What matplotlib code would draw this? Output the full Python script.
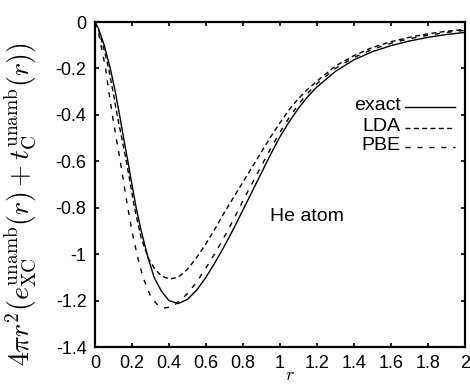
import numpy as np
import matplotlib
matplotlib.use('Agg')
import matplotlib.pyplot as plt

plt.rcParams['font.family'] = ['Liberation Sans', 'DejaVu Sans']
plt.rcParams['mathtext.fontset'] = 'cm'
plt.rcParams['axes.unicode_minus'] = False

# values
r_exact = [0, 0.02, 0.05, 0.083, 0.11, 0.133, 0.155, 0.178, 0.2, 0.223, 0.25, 0.288, 0.32, 0.36, 0.4,
           0.45, 0.5, 0.55, 0.6, 0.65, 0.7, 0.75, 0.8, 0.85, 0.9, 0.95, 1.0, 1.05, 1.1, 1.15, 1.2,
           1.3, 1.4, 1.5, 1.6, 1.7, 1.8, 1.9, 2.0]
exact = [0, -0.03, -0.10, -0.2, -0.30, -0.4, -0.5, -0.6, -0.70, -0.8, -0.90, -1.017, -1.10, -1.16, -1.20,
         -1.213, -1.195, -1.155, -1.10, -1.035, -0.965, -0.89, -0.81, -0.73, -0.65, -0.57, -0.495, -0.43, -0.372, -0.322, -0.28,
         -0.213, -0.163, -0.128, -0.102, -0.082, -0.066, -0.054, -0.045]

r_lda = [0, 0.02, 0.05, 0.074, 0.1, 0.12, 0.145, 0.17, 0.19, 0.214, 0.25, 0.288, 0.32, 0.36, 0.405,
         0.45, 0.5, 0.55, 0.6, 0.65, 0.7, 0.75, 0.8, 0.85, 0.9, 0.95, 1.0, 1.05, 1.1, 1.15, 1.2,
         1.3, 1.4, 1.5, 1.6, 1.7, 1.8, 1.9, 2.0]
lda = [0, -0.035, -0.12, -0.2, -0.31, -0.4, -0.5, -0.6, -0.69, -0.8, -0.93, -1.017, -1.06, -1.095, -1.107,
       -1.10, -1.065, -1.015, -0.955, -0.89, -0.82, -0.755, -0.69, -0.625, -0.56, -0.495, -0.435, -0.378, -0.33, -0.29, -0.255,
       -0.19, -0.145, -0.11, -0.085, -0.066, -0.051, -0.04, -0.032]

r_pbe = [0, 0.02, 0.04, 0.058, 0.075, 0.094, 0.115, 0.137, 0.157, 0.178, 0.2, 0.23, 0.26, 0.3, 0.34, 0.378,
         0.42, 0.46, 0.5, 0.55, 0.6, 0.65, 0.7, 0.75, 0.8, 0.85, 0.9, 0.95, 1.0, 1.05, 1.1, 1.15, 1.2,
         1.3, 1.4, 1.5, 1.6, 1.7, 1.8, 1.9, 2.0]
pbe = [0, -0.05, -0.13, -0.2, -0.3, -0.4, -0.5, -0.6, -0.7, -0.8, -0.9, -1.01, -1.1, -1.18, -1.22, -1.232,
       -1.225, -1.2, -1.17, -1.12, -1.06, -0.995, -0.925, -0.85, -0.77, -0.695, -0.62, -0.545, -0.475, -0.412, -0.355, -0.307, -0.266,
       -0.2, -0.153, -0.118, -0.092, -0.072, -0.057, -0.045, -0.036]

xticks = [0, 0.2, 0.4, 0.6, 0.8, 1, 1.2, 1.4, 1.6, 1.8, 2]
xticklabels = ['0', '0.2', '0.4', '0.6', '0.8', '1', '1.2', '1.4', '1.6', '1.8', '2']
yticks = [0, -0.2, -0.4, -0.6, -0.8, -1, -1.2, -1.4]
yticklabels = ['0', '-0.2', '-0.4', '-0.6', '-0.8', '-1', '-1.2', '-1.4']

fig = plt.figure(figsize=(4.7, 3.86), dpi=100)
ax = fig.add_axes([0.202, 0.101, 0.787, 0.842])

ax.plot(r_exact, exact, color='black', lw=1.0)
ax.plot(r_lda, lda, color='black', lw=1.0, dashes=(3.6, 2.4))
ax.plot(r_pbe, pbe, color='black', lw=1.0, dashes=(3.6, 5.0))

ax.set_xlim(0, 2)
ax.set_ylim(-1.4, 0)
ax.set_xticks(xticks)
ax.set_xticklabels(xticklabels)
ax.set_yticks(yticks)
ax.set_yticklabels(yticklabels)
ax.tick_params(direction='in', top=True, right=True, length=3, width=1.2,
               labelsize=13, pad=6)
for s in ax.spines.values():
    s.set_linewidth(1.6)

ax.set_ylabel(r'$4\pi r^2(e_{\rm XC}^{\rm unamb}(r)+t_{\rm C}^{\rm unamb}(r))$', fontsize=20)
ax.yaxis.set_label_coords(-0.15, 0.44)
ax.set_xlabel(r'$r$', fontsize=13)
ax.xaxis.set_label_coords(0.527, -0.062)

# legend, gnuplot style (text right aligned, key on the right)
keys = [('exact', None, 0.738), ('LDA', (3.6, 2.4), 0.675), ('PBE', (3.6, 5.0), 0.616)]
for name, dash, yk in keys:
    ax.text(0.827, yk - 0.01, name, transform=ax.transAxes, ha='right', va='baseline', fontsize=14)
    if dash is None:
        ax.plot([0.838, 0.973], [yk, yk], transform=ax.transAxes, color='black', lw=1.0)
    else:
        ax.plot([0.838, 0.973], [yk, yk], transform=ax.transAxes, color='black', lw=1.0, dashes=dash)

ax.text(0.946, -0.836, 'He atom', va='center', ha='left', fontsize=14)

fig.savefig('out.png', dpi=100)
